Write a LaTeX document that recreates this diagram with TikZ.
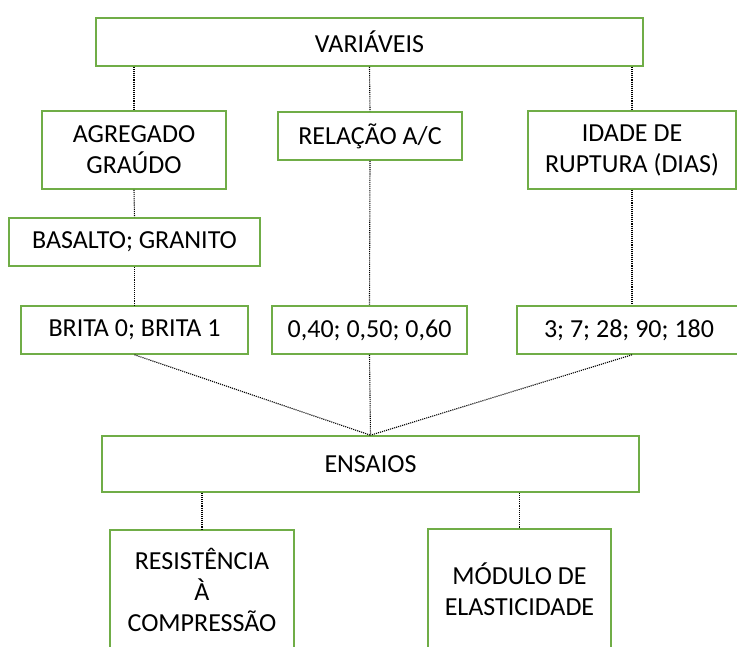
\documentclass[tikz,border=0pt]{standalone}
\usepackage{fontspec}
\setmainfont{Carlito}
\usepackage{tikz}
\usetikzlibrary{calc}
\definecolor{verde}{HTML}{70AD47}
\tikzset{
  caixa/.style={shape=rectangle,draw=verde,line width=1.6pt,fill=white,inner sep=0pt,align=center,
    font=\fontsize{26}{31}\selectfont},
  ligacao/.style={densely dotted,line width=1.1pt,black}
}
\newcommand{\caixa}[6]{\node[caixa,minimum width=#4pt,minimum height=#5pt] (#1) at ( #2 , #3 ) {#6};}
\newcommand{\liga}[2]{\draw[ligacao] (#1) -- (#2);}

\begin{document}
\begin{tikzpicture}[x=1pt,y=-1pt]
            \useasboundingbox (0,0) rectangle (737,646);
            % topo
            \caixa{var}{369.5}{42}{547}{48}{VARIÁVEIS}
            % row1
            \caixa{agr}{134}{150}{184}{78}{AGREGADO\\GRAÚDO}
            \caixa{rel}{370}{136}{184}{48}{RELAÇÃO A/C}
            \caixa{ida}{632}{150}{208}{78}{IDADE DE\\RUPTURA (DIAS)}
            % row2
            \caixa{bas}{134.5}{242}{251}{48}{BASALTO; GRANITO}
            % row3
            \caixa{bri}{134.5}{330}{227}{48}{BRITA 0; BRITA 1}
            \caixa{rac}{369.5}{330}{195}{48}{0,40; 0,50; 0,60}
            \caixa{dia}{629}{330}{224}{48}{3; 7; 28; 90; 180}
            % ensaios
            \caixa{ens}{370.5}{464}{537}{56}{ENSAIOS}
            \caixa{res}{202}{590}{184}{120}{RESISTÊNCIA\\À\\COMPRESSÃO}
            \caixa{mod}{519.5}{589}{183}{120}{MÓDULO DE\\ELASTICIDADE}

            % % ligacoes
            \liga{var.south -| agr.north}{agr.north}
            \liga{var.south}{rel.north}
            \liga{var.south -| ida.north}{ida.north}
            \liga{agr.south}{bas.north}
            \liga{bas.south}{bri.north}
            \liga{rel.south}{rac.north}
            \liga{ida.south}{ida.south |- dia.north}
            \liga{bri.south}{ens.north}
            \liga{rac.south}{ens.north}
            \liga{ida.south |- dia.south}{ens.north}
            \liga{ens.south -| res.north}{res.north}
            \liga{ens.south -| mod.north}{mod.north}
        \end{tikzpicture}
\end{document}
